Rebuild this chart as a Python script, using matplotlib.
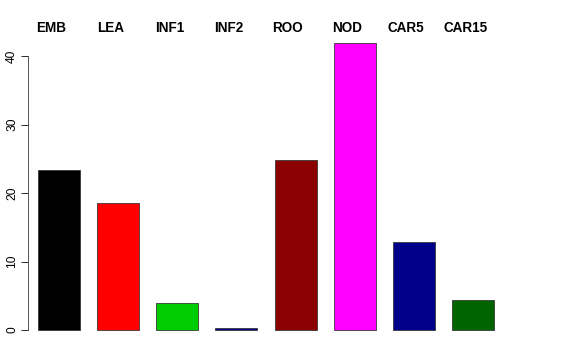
import matplotlib
matplotlib.use("Agg")
import matplotlib.pyplot as plt

categories = ["EMB", "LEA", "INF1", "INF2", "ROO", "NOD", "CAR5", "CAR15"]
values = [23.3, 18.6, 3.9, 0.3, 24.8, 41.9, 12.8, 4.4]
colors = ["#000000", "#FF0000", "#00CD00", "#00008B", "#8B0000", "#FF00FF", "#00008B", "#006400"]
yticks = [0, 10, 20, 30, 40]

plt.rcParams["font.family"] = ["Liberation Sans", "DejaVu Sans"]

fig = plt.figure(figsize=(8, 5), dpi=72)
# axes in pixel terms: left 28, right 548, bottom 340, top 30
ax = fig.add_axes([28 / 576, 20 / 360, 520 / 576, 310 / 360])

x = list(range(len(categories)))
ax.bar(x, values, width=0.71, color=colors, edgecolor="#333333", linewidth=0.8)

ax.set_xlim(-0.524, 8.27)
ax.set_ylim(-1.46, 43.8)

for s in ["top", "right", "bottom"]:
    ax.spines[s].set_visible(False)
ax.spines["left"].set_bounds(0, 40)
ax.spines["left"].set_color("#333333")
ax.set_xticks([])
ax.set_yticks(yticks)
ax.set_yticklabels([str(t) for t in yticks], rotation=90, va="center", fontsize=12)
ax.tick_params(axis="y", length=7, width=1, color="#333333", pad=3)

for i, name in enumerate(categories):
    ax.text(i - 0.13, 44.1, name, ha="center", va="center", fontsize=13.5,
            fontweight="bold", clip_on=False)

fig.savefig("out.png", dpi=72)
